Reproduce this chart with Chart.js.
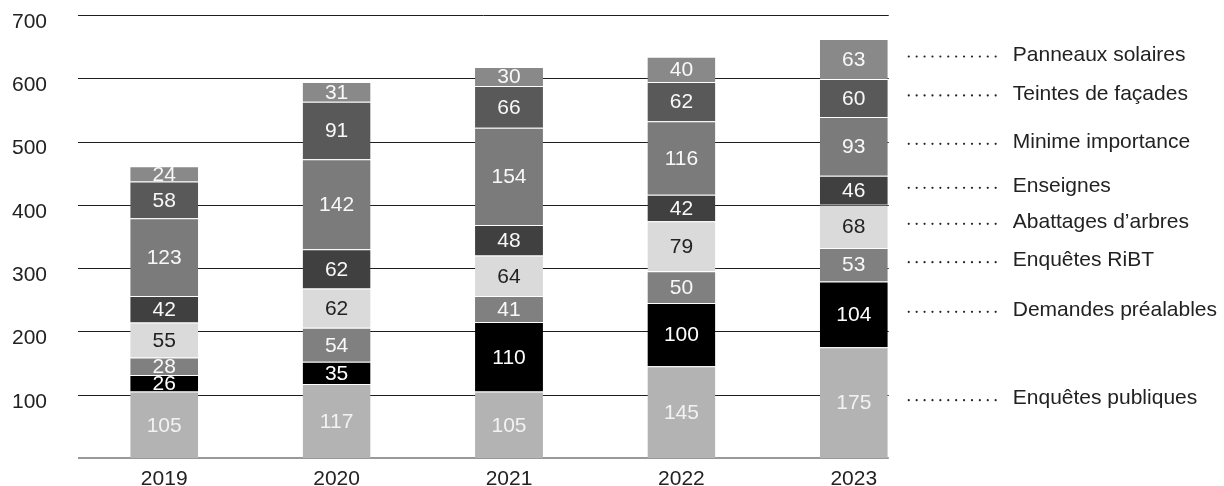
<!DOCTYPE html>
<html>
<head>
<meta charset="utf-8">
<script src="https://cdn.jsdelivr.net/npm/chart.js@4.4.1/dist/chart.umd.min.js"></script>
<style>
html, body { margin: 0; padding: 0; background: #fff; }
#wrap { position: relative; width: 1224px; height: 486px; }
</style>
</head>
<body>
<div id="wrap"><canvas id="chart"></canvas></div>
<script>
// Chart x axis
var years = ['2019', '2020', '2021', '2022', '2023'];

// Chart y axis
var yTicks = [100, 200, 300, 400, 500, 600, 700];

// Series, from the bottom of each bar to the top
var seriesNames = ['Enquêtes publiques', 'Demandes préalables', 'Enquêtes RiBT', 'Abattages d’arbres',
                   'Enseignes', 'Minime importance', 'Teintes de façades', 'Panneaux solaires'];
var enquetesPubliques  = [105, 117, 105, 145, 175];
var demandesPrealables = [26, 35, 110, 100, 104];
var enquetesRibt       = [28, 54, 41, 50, 53];
var abattagesArbres    = [55, 62, 64, 79, 68];
var enseignes          = [42, 62, 48, 42, 46];
var minimeImportance   = [123, 142, 154, 116, 93];
var teintesFacades     = [58, 91, 66, 62, 60];
var panneauxSolaires   = [24, 31, 30, 40, 63];

var seriesValues = [enquetesPubliques, demandesPrealables, enquetesRibt, abattagesArbres,
                    enseignes, minimeImportance, teintesFacades, panneauxSolaires];
var seriesColors = ['#b3b3b3', '#000000', '#808080', '#dadada', '#404040', '#7b7b7b', '#595959', '#898989'];
var valueColors  = ['#f2f2f2', '#ffffff', '#f8f8f8', '#222222', '#f8f8f8', '#f8f8f8', '#f8f8f8', '#f8f8f8'];

var FONT = "'Liberation Sans', Arial, sans-serif";

// Grid lines stop at the right edge of the last bar
var gridPlugin = {
  id: 'gridLines',
  beforeDatasetsDraw: function(chart) {
    var ctx = chart.ctx;
    var area = chart.chartArea;
    var y = chart.scales.y;
    var last = chart.getDatasetMeta(0).data[years.length - 1];
    var right = last.x + last.width / 2 + 1;
    ctx.save();
    ctx.strokeStyle = '#1e1e1e';
    ctx.lineWidth = 1;
    yTicks.forEach(function(v) {
      var py = Math.round(y.getPixelForValue(v)) + 0.5;
      ctx.beginPath();
      ctx.moveTo(area.left, py);
      ctx.lineTo(right, py);
      ctx.stroke();
    });
    ctx.strokeStyle = '#777';
    ctx.lineWidth = 1.5;
    var py0 = y.getPixelForValue(0);
    ctx.beginPath();
    ctx.moveTo(area.left, py0);
    ctx.lineTo(right, py0);
    ctx.stroke();
    ctx.restore();
  }
};

// Values inside the segments and series names beside the last bar
var labelPlugin = {
  id: 'segmentLabels',
  afterDatasetsDraw: function(chart) {
    var ctx = chart.ctx;
    ctx.save();
    ctx.font = '21px ' + FONT;
    ctx.textAlign = 'center';
    ctx.textBaseline = 'middle';
    chart.data.datasets.forEach(function(ds, i) {
      var meta = chart.getDatasetMeta(i);
      meta.data.forEach(function(bar, j) {
        ctx.fillStyle = valueColors[i];
        ctx.fillText(ds.data[j], bar.x, (bar.y + bar.base) / 2 + 1);
      });
    });

    ctx.textAlign = 'left';
    chart.data.datasets.forEach(function(ds, i) {
      var bar = chart.getDatasetMeta(i).data[years.length - 1];
      var cy = (bar.y + bar.base) / 2 - 4;
      var x0 = bar.x + bar.width / 2 + 21;
      ctx.fillStyle = '#222';
      for (var k = 0; k < 12; k++) {
        ctx.beginPath();
        ctx.arc(x0 + k * 7.9, cy + 1.5, 1.1, 0, Math.PI * 2);
        ctx.fill();
      }
      ctx.fillText(seriesNames[i], x0 + 104, cy);
    });
    ctx.restore();
  }
};

var datasets = seriesNames.map(function(name, i) {
  return {
    label: name,
    data: seriesValues[i],
    backgroundColor: seriesColors[i],
    borderColor: 'rgba(255,255,255,0.12)',
    borderWidth: { top: 1 },
    borderSkipped: false,
    barPercentage: 0.394,
    categoryPercentage: 1
  };
});

new Chart(document.getElementById('chart'), {
  type: 'bar',
  data: { labels: years, datasets: datasets },
  plugins: [gridPlugin, labelPlugin],
  options: {
    responsive: true,
    maintainAspectRatio: false,
    animation: false,
    layout: { padding: { top: 15, right: 284, bottom: 0, left: 0 } },
    plugins: {
      legend: { display: false },
      tooltip: { enabled: false }
    },
    scales: {
      x: {
        stacked: true,
        grid: { display: false, drawTicks: false },
        border: { display: false },
        ticks: { font: { family: FONT, size: 21 }, color: '#222', padding: 9, maxRotation: 0 },
        afterFit: function(s) { s.height = 28; s.paddingLeft = 0; s.paddingRight = 0; }
      },
      y: {
        stacked: true,
        min: 0,
        max: 700,
        afterBuildTicks: function(s) { s.ticks = yTicks.map(function(v) { return { value: v }; }); },
        grid: { display: false, drawTicks: false },
        border: { display: false },
        ticks: { font: { family: FONT, size: 21 }, color: '#222', padding: 31, labelOffset: 7 },
        afterFit: function(s) { s.width = 78; s.paddingTop = 0; s.paddingBottom = 0; }
      }
    }
  }
});
</script>
</body>
</html>
